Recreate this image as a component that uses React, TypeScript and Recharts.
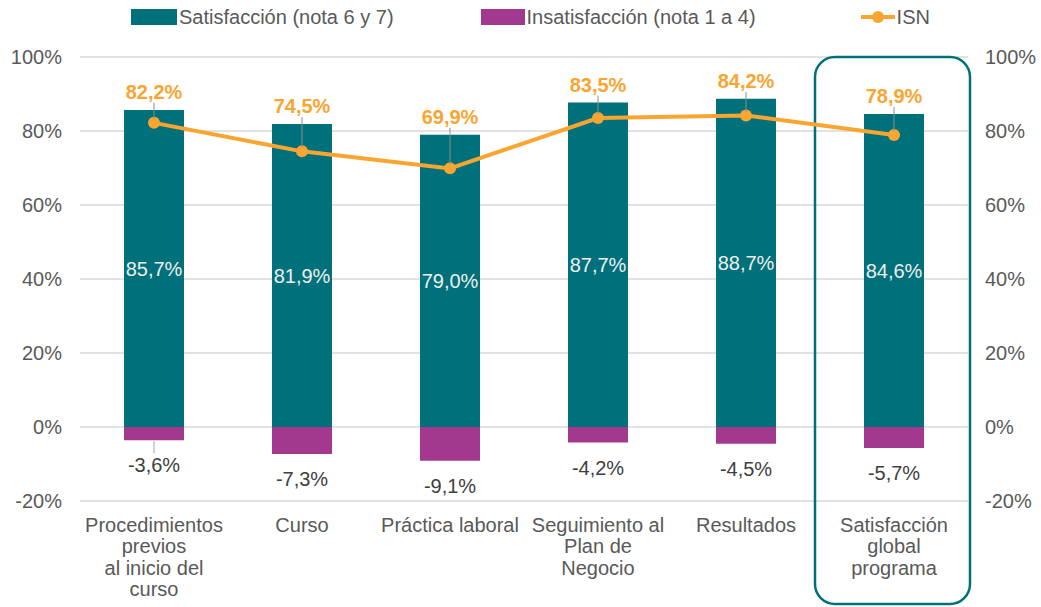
import {
  ComposedChart,
  Bar,
  Line,
  XAxis,
  YAxis,
  CartesianGrid,
  Legend,
  LabelList,
  ReferenceArea,
} from 'recharts';

const categories = [
  'Procedimientos\nprevios\nal inicio del\ncurso',
  'Curso',
  'Práctica laboral',
  'Seguimiento al\nPlan de\nNegocio',
  'Resultados',
  'Satisfacción\nglobal\nprograma',
];
const satisfaccion = [85.7, 81.9, 79.0, 87.7, 88.7, 84.6];
const insatisfaccion = [-3.6, -7.3, -9.1, -4.2, -4.5, -5.7];
const isn = [82.2, 74.5, 69.9, 83.5, 84.2, 78.9];
const yTicks = [-20, 0, 20, 40, 60, 80, 100];

const data = categories.map((name, i) => ({
  name,
  sat: satisfaccion[i],
  insat: insatisfaccion[i],
  isn: isn[i],
}));

const TEAL = '#00707A';
const PURPLE = '#A2398F';
const ORANGE = '#F9A532';
const GRAY = '#595959';
const FONT = '"Liberation Sans", Arial, sans-serif';

const pct = (v: number) => `${v.toFixed(1).replace('.', ',')}%`;

function CategoryTick(props: any) {
  const { x, y, payload } = props;
  const lines = String(payload.value).split('\n');
  return (
    <text x={x} y={y + 31} textAnchor="middle" fill={GRAY} fontSize={20} fontFamily={FONT}>
      {lines.map((l, i) => (
        <tspan key={i} x={x} dy={i === 0 ? 0 : 21.3}>
          {l}
        </tspan>
      ))}
    </text>
  );
}

// value inside the teal bar + the ISN label above it with its leader line
function SatLabel(props: any) {
  const { x, y, width, height, index } = props;
  const top = Math.min(y, y + height);
  const zero = Math.max(y, y + height);
  const cx = x + width / 2;
  const perUnit = Math.abs(height) / satisfaccion[index];
  const pointY = zero - isn[index] * perUnit;
  const labelY = top - 18;
  const showLeader = pointY - (labelY + 10) > 12;
  return (
    <g>
      <text
        x={cx}
        y={(top + zero) / 2}
        dy="0.355em"
        textAnchor="middle"
        fill="#EEEEEE"
        fontSize={20}
        fontFamily={FONT}
      >
        {pct(satisfaccion[index])}
      </text>
      {showLeader && (
        <line x1={cx} x2={cx} y1={labelY + 11} y2={pointY - 4} stroke="#8C8C8C" strokeWidth={1} />
      )}
      <text
        x={cx}
        y={labelY}
        dy="0.355em"
        textAnchor="middle"
        fill={ORANGE}
        fontSize={20}
        fontWeight="bold"
        fontFamily={FONT}
      >
        {pct(isn[index])}
      </text>
    </g>
  );
}

function InsatLabel(props: any) {
  const { x, y, width, height, index } = props;
  const bottom = Math.max(y, y + height);
  const cx = x + width / 2;
  const small = Math.abs(height) < 14;
  return (
    <g>
      {small && <line x1={cx} x2={cx} y1={bottom + 1} y2={bottom + 13} stroke="#A6A6A6" strokeWidth={1} />}
      <text
        x={cx}
        y={bottom + 25}
        dy="0.355em"
        textAnchor="middle"
        fill="#404040"
        fontSize={20}
        fontFamily={FONT}
      >
        {pct(insatisfaccion[index])}
      </text>
    </g>
  );
}

function HighlightBox(props: any) {
  const { x, y, width, height } = props;
  return (
    <rect
      x={x - 5}
      y={y}
      width={width + 7}
      height={height + 103}
      rx={20}
      ry={20}
      fill="none"
      stroke={TEAL}
      strokeWidth={2.5}
    />
  );
}

function LegendContent() {
  const item = { display: 'flex', alignItems: 'center' } as const;
  return (
    <div
      style={{
        display: 'flex',
        alignItems: 'center',
        paddingLeft: 131,
        height: 30,
        fontSize: 20,
        fontFamily: FONT,
        color: GRAY,
      }}
    >
      <div style={item}>
        <span style={{ width: 46, height: 16, background: TEAL, display: 'inline-block', marginRight: 2 }} />
        Satisfacción (nota 6 y 7)
      </div>
      <div style={{ ...item, marginLeft: 87 }}>
        <span style={{ width: 44, height: 16, background: PURPLE, display: 'inline-block', marginRight: 2 }} />
        Insatisfacción (nota 1 a 4)
      </div>
      <div style={{ ...item, marginLeft: 105 }}>
        <svg width={34} height={14} style={{ marginRight: 2 }}>
          <line x1={0} x2={34} y1={7} y2={7} stroke={ORANGE} strokeWidth={4} />
          <circle cx={17} cy={7} r={6} fill={ORANGE} />
        </svg>
        ISN
      </div>
    </div>
  );
}

export default function App() {
  return (
    <div style={{ position: 'absolute', left: 0, top: 0, background: '#fff' }}>
      <ComposedChart
        width={1041}
        height={607}
        data={data}
        stackOffset="sign"
        margin={{ top: 27, right: 0, bottom: 0, left: 0 }}
      >
        <CartesianGrid vertical={false} stroke="#D9D9D9" strokeWidth={1.5} yAxisId="left" />
        <XAxis
          dataKey="name"
          axisLine={false}
          tickLine={false}
          tickSize={0}
          tickMargin={0}
          height={106}
          interval={0}
          tick={<CategoryTick />}
        />
        <YAxis
          yAxisId="left"
          domain={[-20, 100]}
          ticks={yTicks}
          width={80}
          axisLine={false}
          tickLine={false}
          tickSize={0}
          tickMargin={18}
          tickFormatter={(v) => `${v}%`}
          tick={{ fill: GRAY, fontSize: 20, fontFamily: FONT }}
        />
        <YAxis
          yAxisId="right"
          orientation="right"
          domain={[-20, 100]}
          ticks={yTicks}
          width={73}
          axisLine={false}
          tickLine={false}
          tickSize={0}
          tickMargin={17}
          tickFormatter={(v) => `${v}%`}
          tick={{ fill: GRAY, fontSize: 20, fontFamily: FONT }}
        />
        <Legend verticalAlign="top" wrapperStyle={{ top: 2, left: 0, width: 1041 }} content={<LegendContent />} />
        <Bar
          yAxisId="left"
          dataKey="sat"
          stackId="a"
          fill={TEAL}
          barSize={60}
          isAnimationActive={false}
        >
          <LabelList dataKey="sat" content={<SatLabel />} />
        </Bar>
        <Bar
          yAxisId="left"
          dataKey="insat"
          stackId="a"
          fill={PURPLE}
          barSize={60}
          isAnimationActive={false}
        >
          <LabelList dataKey="insat" content={<InsatLabel />} />
        </Bar>
        <Line
          yAxisId="right"
          dataKey="isn"
          type="linear"
          stroke={ORANGE}
          strokeWidth={4}
          dot={{ r: 6, fill: ORANGE, stroke: ORANGE, strokeWidth: 0 }}
          isAnimationActive={false}
        />
        <ReferenceArea
          yAxisId="left"
          x1={categories[5]}
          x2={categories[5]}
          y1={-20}
          y2={100}
          ifOverflow="visible"
          shape={<HighlightBox />}
        />
      </ComposedChart>
    </div>
  );
}
